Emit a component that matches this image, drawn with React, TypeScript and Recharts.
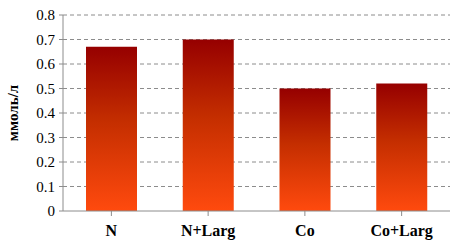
import React from "react";
import { BarChart, Bar, XAxis, YAxis, CartesianGrid } from "recharts";

const categories = ["N", "N+Larg", "Co", "Co+Larg"];
const values = [0.67, 0.7, 0.5, 0.52];
const yTicks = [0, 0.1, 0.2, 0.3, 0.4, 0.5, 0.6, 0.7, 0.8];

const data = categories.map((name, i) => ({ name, value: values[i] }));

const FONT = "'Liberation Serif', 'Times New Roman', serif";

export default function App() {
  return (
    <div style={{ position: "absolute", left: 0, top: 0, background: "#fff" }}>
      <BarChart
        width={462}
        height={243}
        data={data}
        margin={{ top: 15, right: 12, left: 0, bottom: 0 }}
        barCategoryGap={46}
      >
        <defs>
          <linearGradient id="barFill" x1="0" y1="0" x2="0" y2="1">
            <stop offset="0%" stopColor="#960000" />
            <stop offset="45%" stopColor="#c42e00" />
            <stop offset="100%" stopColor="#ff4a0e" />
          </linearGradient>
        </defs>
        <CartesianGrid
          vertical={false}
          stroke="#8c8c8c"
          strokeDasharray="4 3"
          horizontalValues={[0.1, 0.2, 0.3, 0.4, 0.5, 0.6, 0.7, 0.8]}
        />
        <XAxis
          dataKey="name"
          height={32}
          axisLine={{ stroke: "#8c8c8c" }}
          tickLine={{ stroke: "#8c8c8c" }}
          tickSize={5}
          tickMargin={9}
          interval={0}
          tick={{ fill: "#000", fontSize: 16, fontWeight: "bold", fontFamily: FONT }}
        />
        <YAxis
          width={63}
          domain={[0, 0.8]}
          ticks={yTicks}
          axisLine={{ stroke: "#8c8c8c" }}
          tickLine={{ stroke: "#8c8c8c" }}
          tickSize={4}
          tickMargin={4}
          tick={{ fill: "#000", fontSize: 15, fontFamily: FONT }}
          label={{
            value: "ммоль/л",
            angle: -90,
            position: "center",
            dx: -19,
            style: { fill: "#000", fontSize: 15, fontWeight: "bold", fontFamily: FONT },
          }}
        />
        <Bar dataKey="value" fill="url(#barFill)" barSize={51} isAnimationActive={false} />
      </BarChart>
    </div>
  );
}
